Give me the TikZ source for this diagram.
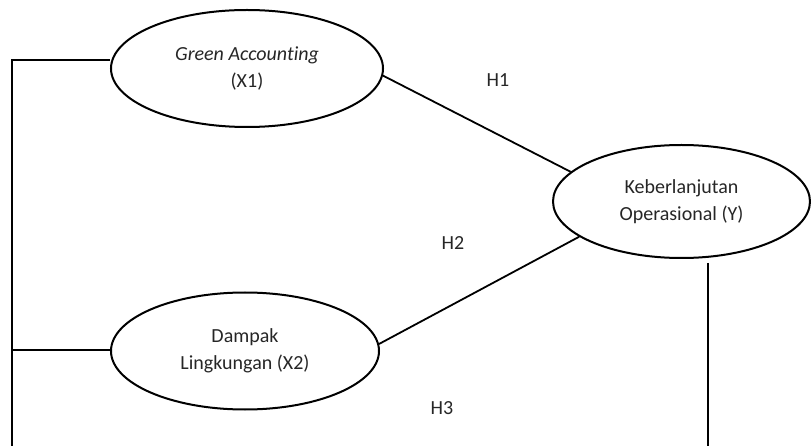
\documentclass[tikz,border=0pt]{standalone}
\usepackage{fontspec}
\setmainfont[Ligatures=NoCommon]{Carlito}
\usetikzlibrary{shapes.geometric}
\begin{document}
\begin{tikzpicture}[x=1pt,y=-1pt,
  var/.style={draw=black, line width=2pt, ellipse, inner sep=0pt, align=center,
    font=\fontsize{20}{26.5}\selectfont, text=black!85},
  lab/.style={font=\fontsize{20}{24}\selectfont, text=black!85},
  conn/.style={draw=black, line width=2.2pt},
  thin/.style={draw=black, line width=1.8pt}]
\useasboundingbox (0,0) rectangle (811,446);
\node[var, minimum width=272pt, minimum height=117pt] (x1) at (247,68.5) {\textit{Green Accounting}\\(X1)};
\node[var, minimum width=268pt, minimum height=117pt] (x2) at (245,351) {Dampak\\Lingkungan (X2)};
\node[var, minimum width=257pt, minimum height=113pt] (y) at (681.5,201.5) {Keberlanjutan\\Operasional (Y)};
\node[lab] (h1) at (498,80) {H1};
\node[lab] (h2) at (453,243.5) {H2};
\node[lab] (h3) at (442,408.5) {H3};
\coordinate (lt) at (12,60);
\coordinate (lm) at (12,350);
\coordinate (lb) at (12,446);
\coordinate (vt) at (708,263);
\coordinate (vb) at (708,446);
\draw[conn] (x1.west |- lt) -- (lt) -- (lb);
\draw[conn] (lm) -- (x2.west |- lm);
\draw[thin] (x1.-3) -- (y.165.6);
\draw[thin] (x2.3.9) -- (y.-161.4);
\draw[thin] (vt) -- (vb);
\end{tikzpicture}
\end{document}
